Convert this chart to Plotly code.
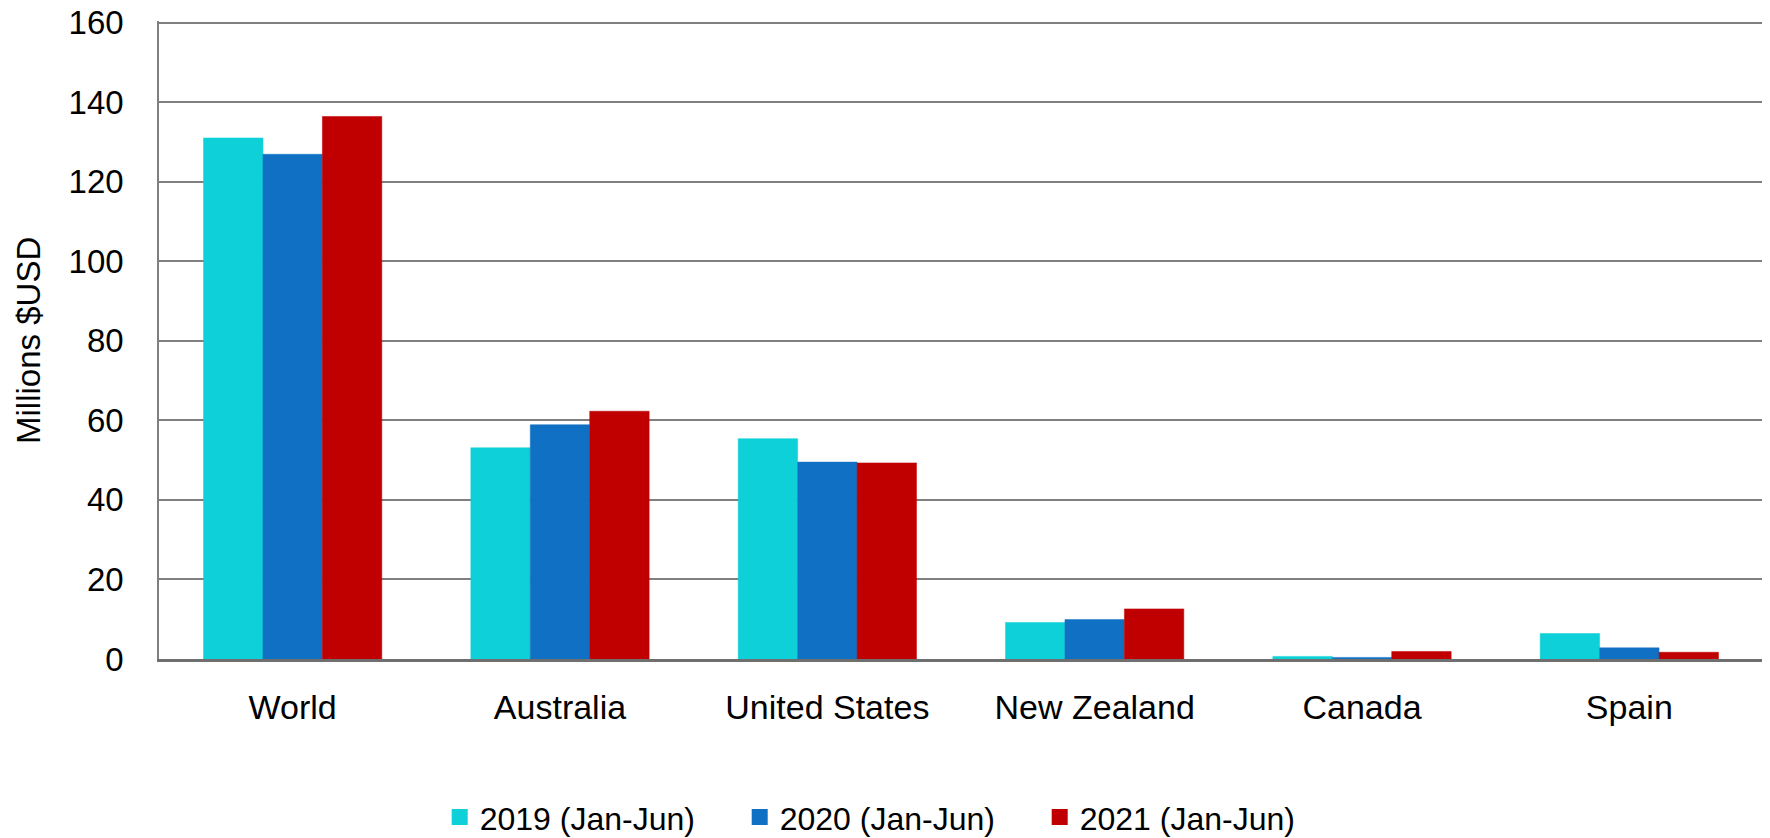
import plotly.graph_objects as go

categories = ["World", "Australia", "United States", "New Zealand", "Canada", "Spain"]
series_names = ["2019 (Jan-Jun)", "2020 (Jan-Jun)", "2021 (Jan-Jun)"]
v2019 = [131.0, 53.1, 55.4, 9.2, 0.65, 6.4]
v2020 = [126.9, 58.9, 49.5, 9.9, 0.4, 2.8]
v2021 = [136.4, 62.3, 49.3, 12.6, 1.9, 1.7]
colors = ["#0DD0D8", "#1070C4", "#C00000"]
y_ticks = [0, 20, 40, 60, 80, 100, 120, 140, 160]

FONT = "Liberation Sans"

fig = go.Figure()
for name, vals, col in zip(series_names, [v2019, v2020, v2021], colors):
    fig.add_trace(go.Bar(
        x=categories, y=vals, name=name, showlegend=False, legendgroup=name,
        marker=dict(color=col, line=dict(color=col, width=0.5)),
    ))
# legend proxies (larger square swatches)
for name, col in zip(series_names, colors):
    fig.add_trace(go.Scatter(
        x=[None], y=[None], name=name, mode="markers", legendgroup=name,
        marker=dict(symbol="square", size=20, color=col),
    ))

fig.update_layout(
    width=1762, height=830,
    paper_bgcolor="white", plot_bgcolor="white",
    margin=dict(l=151, r=7, t=12.7, b=178.7, autoexpand=False),
    barmode="group", bargap=0.333, bargroupgap=0,
    font=dict(family=FONT, size=32, color="#000000"),
    showlegend=True,
    legend=dict(
        orientation="h", x=0.175, xanchor="left", y=-0.248, yanchor="middle",
        font=dict(family=FONT, size=32, color="#000000"),
        entrywidth=255, entrywidthmode="pixels",
        itemclick=False, traceorder="normal",
    ),
    annotations=[dict(
        text="Millions $USD", textangle=-90, showarrow=False,
        xref="paper", yref="paper", x=-0.0817, y=0.5,
        xanchor="center", yanchor="middle",
        font=dict(family=FONT, size=33, color="#000000"),
    )],
)

fig.update_yaxes(
    range=[0, 160.4], tickvals=y_ticks, ticktext=[str(t) for t in y_ticks],
    showgrid=True, gridcolor="#7F7F7F", gridwidth=1.5,
    showline=True, linecolor="#7F7F7F", linewidth=1.5,
    zeroline=False, ticks="", ticklabelstandoff=27, automargin=False,
    ticklabeloverflow="allow",
    tickfont=dict(family=FONT, size=33, color="#000000"),
)
fig.update_xaxes(
    showline=True, linecolor="#6F6F6F", linewidth=2.5,
    showgrid=False, ticks="", ticklabelstandoff=16, automargin=False,
    tickfont=dict(family=FONT, size=34, color="#000000"),
)

fig.write_html("out.html")
